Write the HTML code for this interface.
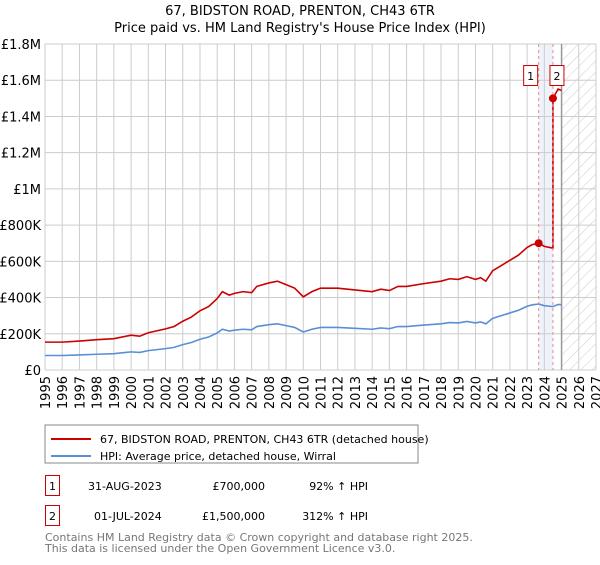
<!DOCTYPE html>
<html><head><meta charset="utf-8"><style>
body{margin:0;background:#fff;font-family:"Liberation Sans","DejaVu Sans",sans-serif;}
svg text{font-family:"DejaVu Sans","Liberation Sans",sans-serif;}
</style></head><body>
<svg width="600" height="560" viewBox="0 0 600 560" xmlns="http://www.w3.org/2000/svg">
<defs><pattern id="hatch" width="8" height="8" patternUnits="userSpaceOnUse" patternTransform="rotate(45)"><line x1="0" y1="0" x2="0" y2="8" stroke="#ccc" stroke-width="1"/></pattern></defs>
<text x="300" y="15" text-anchor="middle" font-size="13">67, BIDSTON ROAD, PRENTON, CH43 6TR</text>
<text x="300" y="32" text-anchor="middle" font-size="13">Price paid vs. HM Land Registry's House Price Index (HPI)</text>
<g id="grid"></g><g id="marks"></g><g id="axes"></g>
<rect x="45" y="425" width="373" height="38" fill="#fff" stroke="#888"/>
<line x1="51" y1="439" x2="91" y2="439" stroke="#cc0000" stroke-width="2"/>
<text x="100" y="443" font-size="11">67, BIDSTON ROAD, PRENTON, CH43 6TR (detached house)</text>
<line x1="51" y1="456" x2="91" y2="456" stroke="#5b8fd4" stroke-width="2"/>
<text x="100" y="460" font-size="11">HPI: Average price, detached house, Wirral</text>
<g>
<rect x="45.5" y="475.5" width="14" height="20" fill="#fff" stroke="#cc0000"/>
<text x="52.5" y="490" font-size="11" text-anchor="middle">1</text>
<text x="88" y="490" font-size="11">31-AUG-2023</text>
<text x="265" y="490" font-size="11" text-anchor="end">£700,000</text>
<text x="368" y="490" font-size="11" text-anchor="end">92% ↑ HPI</text></g>
<g>
<rect x="45.5" y="505.5" width="14" height="20" fill="#fff" stroke="#cc0000"/>
<text x="52.5" y="520" font-size="11" text-anchor="middle">2</text>
<text x="94" y="520" font-size="11">01-JUL-2024</text>
<text x="265" y="520" font-size="11" text-anchor="end">£1,500,000</text>
<text x="368" y="520" font-size="11" text-anchor="end">312% ↑ HPI</text></g>
<text x="45" y="541" font-size="11" fill="#777">Contains HM Land Registry data © Crown copyright and database right 2025.</text>
<text x="45" y="552" font-size="11" fill="#777">This data is licensed under the Open Government Licence v3.0.</text>
</svg>
<script>
const hpiYears=[1995,1996,1997,1998,1999,2000,2000.5,2001,2002,2002.5,2003,2003.5,2004,2004.5,2005,2005.3,2005.7,2006,2006.5,2007,2007.3,2008,2008.5,2009,2009.5,2010,2010.5,2011,2012,2013,2014,2014.5,2015,2015.5,2016,2017,2018,2018.5,2019,2019.5,2020,2020.3,2020.6,2021,2021.5,2022,2022.5,2023,2023.3,2023.67,2024,2024.5,2024.8,2025];
const hpiValues=[80,80,83,87,90,100,97,107,118,125,140,152,170,182,205,225,215,220,225,222,240,250,255,245,235,210,225,235,235,230,225,232,228,240,240,248,255,262,260,268,260,265,255,285,300,315,330,352,360,364,355,350,362,360];
const saleYears=[2023.67,2024.5];
const saleValues=[700,1500];
const yTicks=[0,200,400,600,800,1000,1200,1400,1600,1800];
const yTickLabels=["£0","£200K","£400K","£600K","£800K","£1M","£1.2M","£1.4M","£1.6M","£1.8M"];
const xTicks=[1995,1996,1997,1998,1999,2000,2001,2002,2003,2004,2005,2006,2007,2008,2009,2010,2011,2012,2013,2014,2015,2016,2017,2018,2019,2020,2021,2022,2023,2024,2025,2026,2027];
const NS="http://www.w3.org/2000/svg";
const X0=45,X1=596,Y0=370,Y1=44;
const xs=v=>X0+(v-1995)/(2027-1995)*(X1-X0);
const ys=v=>Y0-v/1800*(Y0-Y1);
function mk(p,t,a){const e=document.createElementNS(NS,t);for(const k in a)e.setAttribute(k,a[k]);p.appendChild(e);return e;}
const grid=document.getElementById('grid'),marks=document.getElementById('marks'),axes=document.getElementById('axes');
const bg=mk(grid,'rect',{x:X0,y:Y1,width:X1-X0,height:Y0-Y1,fill:'#fff'});


const band=mk(grid,'rect',{x:xs(saleYears[0]),y:Y1,width:xs(saleYears[1])-xs(saleYears[0]),height:Y0-Y1,fill:'#eef3fb'});


const hz=mk(grid,'rect',{x:xs(2025),y:Y1,width:X1-xs(2025),height:Y0-Y1,fill:'url(#hatch)'});


yTicks.forEach((v,i)=>{
 const l=mk(grid,'line',{x1:X0,x2:X1,y1:ys(v),y2:ys(v),stroke:'#ccc'});
 
 
 const t=mk(axes,'text',{x:X0-4,y:ys(v)+5,'text-anchor':'end','font-size':13});
 
 
 t.textContent=yTickLabels[i];
});
xTicks.forEach(v=>{
 const l=mk(grid,'line',{x1:xs(v),x2:xs(v),y1:Y1,y2:Y0,stroke:'#ccc'});
 
 
 const t=mk(axes,'text',{x:0,y:0,'text-anchor':'end','font-size':13,transform:`translate(${xs(v)+5},376) rotate(-90)`});
 
 
 t.textContent=v;
});
const nl=mk(grid,'line',{x1:xs(2025),x2:xs(2025),y1:Y1,y2:Y0,stroke:'#999','stroke-width':1.5});


function hpiAt(y){for(let i=1;i<hpiYears.length;i++){if(y<=hpiYears[i]){const f=(y-hpiYears[i-1])/(hpiYears[i]-hpiYears[i-1]);return hpiValues[i-1]+f*(hpiValues[i]-hpiValues[i-1]);}}return hpiValues[hpiValues.length-1];}
let hp=hpiYears.map((y,i)=>`${xs(y)},${ys(hpiValues[i])}`).join(' ');
const hl=mk(marks,'polyline',{points:hp,fill:'none',stroke:'#5b8fd4','stroke-width':1.6});


const f1=saleValues[0]/hpiAt(saleYears[0]),f2=saleValues[1]/hpiAt(saleYears[1]);
let rp=[];
hpiYears.forEach((y,i)=>{if(y<saleYears[1])rp.push([y,hpiValues[i]*f1]);});
rp.push([saleYears[1],hpiAt(saleYears[1])*f1]);
rp.push([saleYears[1],saleValues[1]]);
hpiYears.forEach((y,i)=>{if(y>saleYears[1])rp.push([y,hpiValues[i]*f2]);});
const rl=mk(marks,'polyline',{points:rp.map(p=>`${xs(p[0])},${ys(p[1])}`).join(' '),fill:'none',stroke:'#cc0000','stroke-width':1.6});


saleYears.forEach((y,i)=>{
 const d=mk(marks,'line',{x1:xs(y),x2:xs(y),y1:Y1,y2:Y0,stroke:'#e88','stroke-dasharray':'3,3'});
 
 
 const c=mk(marks,'circle',{cx:xs(y),cy:ys(saleValues[i]),r:4,fill:'#cc0000'});
 
 
 const bx=xs(y)-(i===0?15:3);
 const r=mk(marks,'rect',{x:bx,y:65.5,width:14,height:20,fill:'#fff',stroke:'#cc0000'});
 
 
 const t=mk(marks,'text',{x:bx+7,y:80,'text-anchor':'middle','font-size':11});
 
 
 t.textContent=i+1;
});
</script>
</body></html>
